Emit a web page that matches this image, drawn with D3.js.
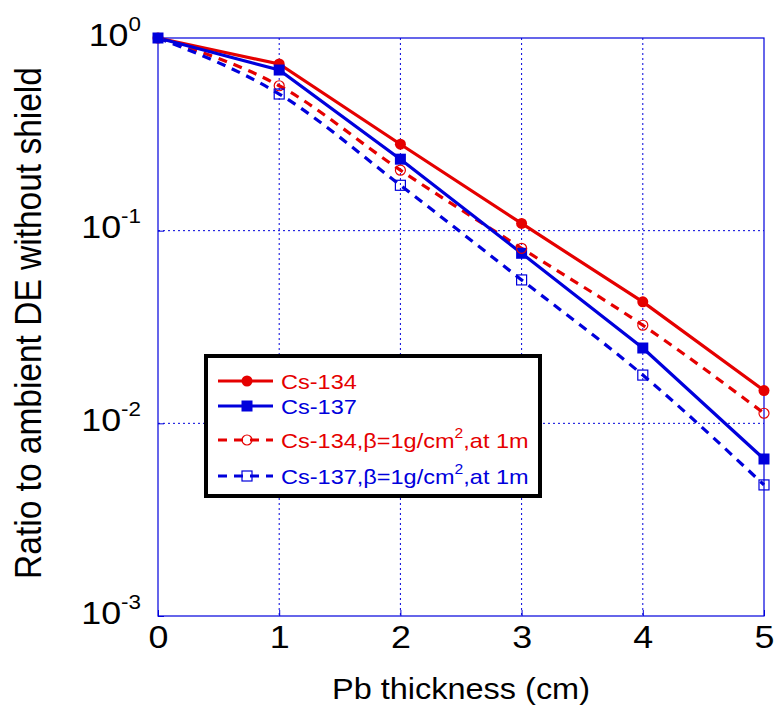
<!DOCTYPE html>
<html><head><meta charset="utf-8">
<script src="https://cdn.jsdelivr.net/npm/d3@7"></script>
<style>body{margin:0;background:#fff}svg{display:block;font-family:"Liberation Sans",Arial,sans-serif}</style>
</head><body>
<svg id="c" width="776" height="713"></svg>
<script>
const xVals = [0, 1, 2, 3, 4, 5];
const cs134 = [1, 0.733, 0.281, 0.109, 0.0427, 0.0148];
const cs137 = [1, 0.682, 0.235, 0.0763, 0.0246, 0.00653];
const cs134b = [1, 0.565, 0.206, 0.081, 0.0323, 0.01128];
const cs137b = [1, 0.512, 0.172, 0.0555, 0.0178, 0.00479];
const xTicks = [0, 1, 2, 3, 4, 5];
const yTicks = [1, 0.1, 0.01, 0.001];
const yExp = ["0", "-1", "-2", "-3"];
const legendLabels = ["Cs-134", "Cs-137", "Cs-134,β=1g/cm", "Cs-137,β=1g/cm"];

const RED = "#e50000", BLUE = "#0000dc";
const SX = 1.12; // horizontal text stretch of the reference
const FONT = "Liberation Sans, Arial, sans-serif";
const svg = d3.select("#c");
const L = 158, R = 764, T = 38, B = 616;
const x = d3.scaleLinear().domain([0, 5]).range([L, R]);
const y = d3.scaleLog().domain([0.001, 1]).range([B, T]);

// grid
const g = svg.append("g");
g.selectAll(".gx").data(xTicks.slice(1, -1)).join("line")
  .attr("x1", d => x(d)).attr("x2", d => x(d)).attr("y1", T).attr("y2", B)
  .attr("stroke", BLUE).attr("stroke-width", 1).attr("stroke-dasharray", "2,3");
g.selectAll(".gy").data(yTicks.slice(1, -1)).join("line")
  .attr("y1", d => y(d)).attr("y2", d => y(d)).attr("x1", L).attr("x2", R)
  .attr("stroke", BLUE).attr("stroke-width", 1).attr("stroke-dasharray", "2,3");
// box
svg.append("rect").attr("x", L).attr("y", T).attr("width", R - L).attr("height", B - T)
  .attr("fill", "none").attr("stroke", BLUE).attr("stroke-width", 1.2);

// x axis
const xa = svg.append("g").attr("transform", `translate(0,${B})`)
  .call(d3.axisBottom(x).tickValues(xTicks).tickSizeInner(-6).tickSizeOuter(0).tickFormat(() => ""));
xa.select(".domain").remove();
xa.selectAll("line").attr("stroke", BLUE);
xa.selectAll(".tick").each(function(d) {
  d3.select(this).append("text").attr("transform", `translate(0,32) scale(${SX},1)`)
    .attr("text-anchor", "middle").attr("fill", "#000").attr("font-size", 32).attr("font-family", FONT)
    .text(d3.format("d")(d));
});

// y axis
const ya = svg.append("g").attr("transform", `translate(${L},0)`)
  .call(d3.axisLeft(y).tickValues(yTicks).tickSizeInner(-6).tickSizeOuter(0).tickFormat(() => ""));
ya.select(".domain").remove();
ya.selectAll("line").attr("stroke", BLUE);
ya.selectAll(".tick").each(function(d, i) {
  const t = d3.select(this).append("text").attr("transform", `translate(-17,7) scale(${SX},1)`)
    .attr("text-anchor", "end").attr("fill", "#000").attr("font-size", 32).attr("font-family", FONT);
  t.append("tspan").text("10");
  t.append("tspan").attr("dy", -15).attr("font-size", 20).text(yExp[i]);
});

svg.append("text").attr("transform", `translate(${(L + R) / 2},699) scale(${SX},1)`).attr("text-anchor", "middle")
  .attr("font-size", 29).text("Pb thickness (cm)");
svg.append("text").attr("transform", `translate(41,${(T + B) / 2 - 4}) scale(${SX},1) rotate(-90)`).attr("text-anchor", "middle")
  .attr("font-size", 33.5).text("Ratio to ambient DE without shield");

// lines
const pts = arr => xVals.map((v, i) => [v, arr[i]]);
const lineStraight = d3.line().x(d => x(d[0])).y(d => y(d[1]));
const lineCurve = d3.line().x(d => x(d[0])).y(d => y(d[1])).curve(d3.curveMonotoneX);
const plot = svg.append("g");
plot.append("path").attr("d", lineCurve(pts(cs134b))).attr("fill", "none").attr("stroke", RED).attr("stroke-width", 3.2).attr("stroke-dasharray", "9,7");
plot.append("path").attr("d", lineCurve(pts(cs137b))).attr("fill", "none").attr("stroke", BLUE).attr("stroke-width", 3.2).attr("stroke-dasharray", "9,7");
plot.append("path").attr("d", lineStraight(pts(cs134))).attr("fill", "none").attr("stroke", RED).attr("stroke-width", 3.2);
plot.append("path").attr("d", lineStraight(pts(cs137))).attr("fill", "none").attr("stroke", BLUE).attr("stroke-width", 3.2);

plot.selectAll(".m1").data(pts(cs134)).join("circle").attr("cx", d => x(d[0])).attr("cy", d => y(d[1])).attr("r", 5.5).attr("fill", RED);
plot.selectAll(".m2").data(pts(cs137)).join("rect").attr("x", d => x(d[0]) - 5.5).attr("y", d => y(d[1]) - 5.5).attr("width", 11).attr("height", 11).attr("fill", BLUE);
plot.selectAll(".m3").data(pts(cs134b).slice(1)).join("circle").attr("cx", d => x(d[0])).attr("cy", d => y(d[1])).attr("r", 5).attr("fill", "none").attr("stroke", RED).attr("stroke-width", 1.2);
plot.selectAll(".m4").data(pts(cs137b).slice(1)).join("rect").attr("x", d => x(d[0]) - 5).attr("y", d => y(d[1]) - 5).attr("width", 10).attr("height", 10).attr("fill", "none").attr("stroke", BLUE).attr("stroke-width", 1.2);

// legend
const lg = svg.append("g");
lg.append("rect").attr("x", 206).attr("y", 356).attr("width", 334).attr("height", 140).attr("fill", "#fff").attr("stroke", "#000").attr("stroke-width", 4);
const rows = [
  {label: legendLabels[0], color: RED, dash: null, mk: "c", fill: true, y: 381, sup: false},
  {label: legendLabels[1], color: BLUE, dash: null, mk: "s", fill: true, y: 406, sup: false},
  {label: legendLabels[2], color: RED, dash: "9,7", mk: "c", fill: false, y: 440, sup: true},
  {label: legendLabels[3], color: BLUE, dash: "9,7", mk: "s", fill: false, y: 476, sup: true}
];
rows.forEach(r => {
  lg.append("line").attr("x1", 218).attr("x2", 273).attr("y1", r.y).attr("y2", r.y).attr("stroke", r.color).attr("stroke-width", 3).attr("stroke-dasharray", r.dash);
  if (r.mk === "c") {
    lg.append("circle").attr("cx", 247).attr("cy", r.y).attr("r", r.fill ? 5.5 : 5)
      .attr("fill", r.fill ? r.color : "none").attr("stroke", r.fill ? "none" : r.color).attr("stroke-width", 1.2);
  } else {
    const s = r.fill ? 11 : 10;
    lg.append("rect").attr("x", 247 - s / 2).attr("y", r.y - s / 2).attr("width", s).attr("height", s)
      .attr("fill", r.fill ? r.color : "none").attr("stroke", r.fill ? "none" : r.color).attr("stroke-width", 1.2);
  }
  const t = lg.append("text").attr("transform", `translate(281,${r.y + 8}) scale(${SX},1)`).attr("fill", r.color).attr("font-size", 21);
  t.append("tspan").text(r.label);
  if (r.sup) {
    t.append("tspan").attr("dy", -10).attr("font-size", 14).text("2");
    t.append("tspan").attr("dy", 10).text(",at 1m");
  }
});
</script>
</body></html>
